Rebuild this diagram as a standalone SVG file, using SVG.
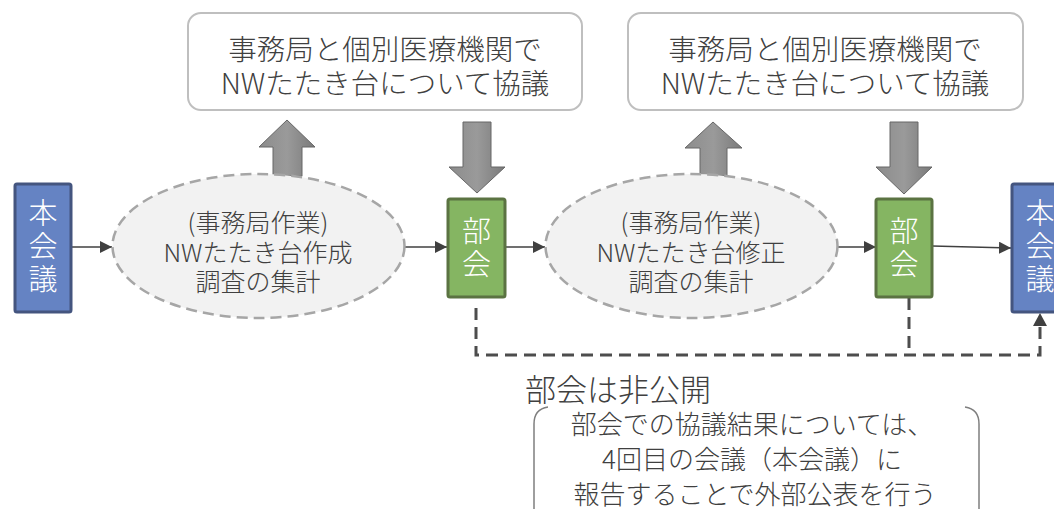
<svg xmlns="http://www.w3.org/2000/svg" width="1054" height="509" viewBox="0 0 1054 509">
<style>
text{font-family:"Noto Sans CJK JP","Noto Sans",sans-serif;font-weight:300;text-anchor:middle;dominant-baseline:central}
.blue{fill:#6583C3;stroke:#44557F;stroke-width:3}
.green{fill:#85B562;stroke:#5B7342;stroke-width:3}
.vt{fill:#fff;font-size:29px;writing-mode:vertical-rl;letter-spacing:4px}
.ell{fill:#F2F2F2;stroke:#A6A6A6;stroke-width:2.5;stroke-dasharray:11 6}
.et{fill:#404040;font-size:25px}
.top{fill:#fff;stroke:#BFBFBF;stroke-width:2}
.tt{fill:#404040;font-size:28.5px}
.blk{fill:url(#g);stroke:#666;stroke-width:1}
.conn{stroke:#404040;stroke-width:1.5;fill:none}
.dash{stroke:#4D4D4D;stroke-width:3;fill:none;stroke-dasharray:12 7}
.bt{fill:#404040;font-size:26px}
</style>
<defs>
<linearGradient id="g" x1="0" y1="0" x2="1" y2="0">
<stop offset="0" stop-color="#8C8C8C"/><stop offset="0.5" stop-color="#9A9A9A"/><stop offset="1" stop-color="#7A7A7A"/>
</linearGradient>
<marker id="ah" viewBox="0 0 12 12" refX="12" refY="6" markerWidth="12" markerHeight="12" markerUnits="userSpaceOnUse" orient="auto">
<path d="M0,0 L12,6 L0,12 Z" fill="#404040"/>
</marker>
</defs>

<g id="top1">
<rect class="top" x="188" y="13" width="394" height="97" rx="13"/>
<text class="tt"><tspan x="385" y="47">事務局と個別医療機関で</tspan><tspan x="385" y="81">NWたたき台について協議</tspan></text>
</g>
<g id="top2">
<rect class="top" x="628" y="13" width="395" height="97" rx="13"/>
<text class="tt"><tspan x="825" y="47">事務局と個別医療機関で</tspan><tspan x="825" y="81">NWたたき台について協議</tspan></text>
</g>

<g id="blockarrows">
<path class="blk" d="M273,176 L273,147 L259,147 L287,120 L315,147 L302,147 L302,176 Z"/>
<path class="blk" d="M463,122 L491,122 L491,167 L505,167 L477,193 L449,167 L463,167 Z"/>
<path class="blk" d="M700,176 L700,148 L685,148 L713,122 L742,148 L727,148 L727,176 Z"/>
<path class="blk" d="M890,122 L918,122 L918,167 L932,167 L904,194 L876,167 L890,167 Z"/>
</g>

<g id="connectors">
<line class="conn" x1="71" y1="247" x2="112" y2="247" marker-end="url(#ah)"/>
<line class="conn" x1="405" y1="247" x2="447" y2="247" marker-end="url(#ah)"/>
<line class="conn" x1="505" y1="247" x2="545" y2="247" marker-end="url(#ah)"/>
<line class="conn" x1="838" y1="247" x2="876" y2="247" marker-end="url(#ah)"/>
<line class="conn" x1="932" y1="246" x2="1011" y2="248" marker-end="url(#ah)"/>
<path class="dash" d="M476,308 L476,355 L1040,355 L1040,326"/>
<path class="dash" d="M909,298 L909,355"/>
<path d="M1040,313 L1047,326 L1033,326 Z" fill="#404040"/>
</g>

<g id="honkaigi1">
<rect class="blue" x="15" y="184" width="56" height="128" rx="2"/>
<text class="vt" x="43" y="248">本会議</text>
</g>
<g id="work1">
<ellipse class="ell" cx="258.5" cy="246" rx="146" ry="72"/>
<text class="et"><tspan x="258" y="221">(事務局作業)</tspan><tspan x="258" y="251">NWたたき台作成</tspan><tspan x="258" y="280">調査の集計</tspan></text>
</g>
<g id="bukai1">
<rect class="green" x="448" y="199" width="57" height="98" rx="2"/>
<text class="vt" x="476.5" y="249">部会</text>
</g>
<g id="work2">
<ellipse class="ell" cx="691.5" cy="246" rx="146" ry="72"/>
<text class="et"><tspan x="691" y="221">(事務局作業)</tspan><tspan x="691" y="251">NWたたき台修正</tspan><tspan x="691" y="280">調査の集計</tspan></text>
</g>
<g id="bukai2">
<rect class="green" x="876" y="199" width="56" height="98" rx="2"/>
<text class="vt" x="904" y="249">部会</text>
</g>
<g id="honkaigi2">
<rect class="blue" x="1012" y="184" width="56" height="128" rx="2"/>
<text class="vt" x="1040" y="248">本会議</text>
</g>

<g id="note">
<text style="fill:#404040;font-size:31px;text-anchor:start" x="525" y="387">部会は非公開</text>
<path d="M548,407 Q534,409 534,424 L534,520" fill="none" stroke="#7F7F7F" stroke-width="1.5"/>
<path d="M965,407 Q979,409 979,424 L979,520" fill="none" stroke="#7F7F7F" stroke-width="1.5"/>
<text class="bt"><tspan x="752" y="422">部会での協議結果については、</tspan><tspan x="752" y="457">4回目の会議（本会議）に</tspan><tspan x="755" y="492">報告することで外部公表を行う</tspan></text>
</g>
</svg>
